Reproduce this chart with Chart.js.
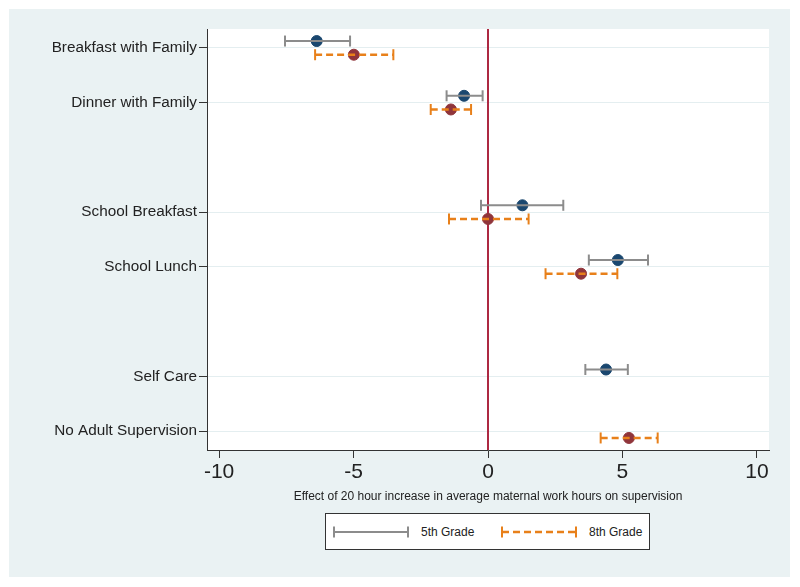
<!DOCTYPE html>
<html>
<head>
<meta charset="utf-8">
<script src="https://cdn.jsdelivr.net/npm/chart.js@4"></script>
<style>
  html, body { margin: 0; padding: 0; background: #fff; }
  body { width: 800px; height: 587px; position: relative; overflow: hidden; font-family: "Liberation Sans", Arial, sans-serif; }
  #bg { position: absolute; left: 9px; top: 9px; width: 781px; height: 568px; background: #eaf2f3; }
  #wrap { position: absolute; left: 0; top: 0; width: 800px; height: 587px; }
  #legend { position: absolute; left: 325px; top: 513px; width: 323px; height: 35px; background: #fff; border: 1px solid #333; font-size: 12px; color: #222; }
  #legend .item { position: absolute; top: 0; height: 35px; display: flex; align-items: center; }
  #legend svg { display: block; margin-right: 12px; }
</style>
</head>
<body>
<div id="bg"></div>
<div id="wrap"><canvas id="chart"></canvas></div>
<div id="legend"></div>
<script>
// rows top to bottom, "" = empty spacer row between groups
const categories = ["Breakfast with Family", "Dinner with Family", "", "School Breakfast", "School Lunch", "", "Self Care", "No Adult Supervision"];

// 5th grade: estimate and 95% CI
const est5 = [-6.37, -0.89, null, 1.28, 4.83, null, 4.39, null];
const lo5  = [-7.55, -1.54, null, -0.26, 3.75, null, 3.62, null];
const hi5  = [-5.13, -0.20, null, 2.80, 5.95, null, 5.20, null];

// 8th grade: estimate and 95% CI
const est8 = [-4.99, -1.38, null, 0.00, 3.46, null, null, 5.24];
const lo8  = [-6.43, -2.13, null, -1.45, 2.14, null, null, 4.19];
const hi8  = [-3.52, -0.63, null, 1.51, 4.81, null, null, 6.31];

const xTicks = [-10, -5, 0, 5, 10];
const seriesNames = ["5th Grade", "8th Grade"];

const COL5 = "#8c8c8c", DOT5 = "#1a476f";
const COL8 = "#e8801a", DOT8 = "#90353b";
const DODGE = 0.125;

const points = (est, off) => est.map((v, i) => v === null ? null : { x: v, y: i + off }).filter(Boolean);
const bars = (lo, hi, off) => lo.flatMap((v, i) => v === null ? [] : [{ x: v, y: i + off }, { x: hi[i], y: i + off }, { x: null, y: null }]);

const plotBg = {
  id: "plotBg",
  beforeDraw(chart) {
    const { ctx, chartArea: a } = chart;
    ctx.save();
    ctx.fillStyle = "#fff";
    ctx.fillRect(a.left, a.top, a.right - a.left, a.bottom - a.top);
    ctx.restore();
  },
  beforeDatasetsDraw(chart) {
    // reference line at zero
    const { ctx, chartArea: a, scales } = chart;
    const x = scales.x.getPixelForValue(0);
    ctx.save();
    ctx.strokeStyle = "#ad2942";
    ctx.lineWidth = 2;
    ctx.beginPath();
    ctx.moveTo(x, a.top);
    ctx.lineTo(x, a.bottom);
    ctx.stroke();
    ctx.restore();
  }
};

const ciStyle = (color, dash, width) => ({
  type: "line",
  borderColor: color,
  borderWidth: width,
  borderDash: dash,
  pointStyle: "line",
  rotation: 90,
  pointRadius: 5.5,
  pointBorderWidth: 2,
  pointBorderColor: color,
  pointBackgroundColor: color,
  spanGaps: false,
  fill: false,
  order: 0
});

new Chart(document.getElementById("chart"), {
  type: "scatter",
  data: {
    datasets: [
      Object.assign({ label: seriesNames[0] + " CI", data: bars(lo5, hi5, -DODGE) }, ciStyle(COL5, [], 2)),
      Object.assign({ label: seriesNames[1] + " CI", data: bars(lo8, hi8, DODGE) }, ciStyle(COL8, [7, 4], 2.5)),
      { label: seriesNames[0], data: points(est5, -DODGE), pointRadius: 5.5, backgroundColor: DOT5, borderColor: DOT5, borderWidth: 1, order: 1 },
      { label: seriesNames[1], data: points(est8, DODGE), pointRadius: 5.5, backgroundColor: DOT8, borderColor: DOT8, borderWidth: 1, order: 1 }
    ]
  },
  options: {
    responsive: true,
    maintainAspectRatio: false,
    animation: false,
    layout: { padding: { top: 29, right: 31, left: 0, bottom: 0 } },
    plugins: { legend: { display: false }, tooltip: { enabled: false } },
    scales: {
      x: {
        type: "linear",
        min: -10.45,
        max: 10.45,
        afterBuildTicks: (s) => { s.ticks = xTicks.map((v) => ({ value: v })); },
        afterFit: (s) => { s.height = 137; },
        grid: { drawOnChartArea: false, drawTicks: true, tickLength: 8, tickColor: "#333", tickWidth: 1 },
        border: { display: true, color: "#333", width: 1 },
        ticks: { color: "#222", padding: 2, font: { family: "Liberation Sans, Arial, sans-serif", size: 21 }, maxRotation: 0 },
        title: {
          display: true,
          text: "Effect of 20 hour increase in average maternal work hours on supervision",
          color: "#222",
          font: { family: "Liberation Sans, Arial, sans-serif", size: 12 },
          padding: { top: 0, bottom: 83 }
        }
      },
      y: {
        type: "linear",
        reverse: true,
        min: -0.345,
        max: categories.length - 1 + 0.345,
        afterBuildTicks: (s) => {
          s.ticks = categories.map((c, i) => c ? { value: i } : null).filter(Boolean);
        },
        afterFit: (s) => { s.width = 207; },
        grid: { color: "#e4eef0", lineWidth: 1, drawTicks: true, tickLength: 8, tickColor: "#333", tickWidth: 1 },
        border: { display: true, color: "#333", width: 1 },
        ticks: {
          color: "#222",
          padding: 2,
          font: { family: "Liberation Sans, Arial, sans-serif", size: 15.3 },
          callback: (v) => categories[v] || ""
        }
      }
    }
  },
  plugins: [plotBg]
});

// legend drawn as html next to the canvas
const legend = document.getElementById("legend");
const sample = (color, dash, width) =>
  `<svg width="76" height="14"><line x1="1" y1="7" x2="75" y2="7" stroke="${color}" stroke-width="${width}" ${dash ? `stroke-dasharray="${dash}"` : ""}/>` +
  `<line x1="1" y1="1.5" x2="1" y2="12.5" stroke="${color}" stroke-width="2"/><line x1="75" y1="1.5" x2="75" y2="12.5" stroke="${color}" stroke-width="2"/></svg>`;
legend.innerHTML =
  `<div class="item" style="left:7px">${sample(COL5, "", 2)}<span>${seriesNames[0]}</span></div>` +
  `<div class="item" style="left:175px">${sample(COL8, "7 4", 2.5)}<span>${seriesNames[1]}</span></div>`;
</script>
</body>
</html>
